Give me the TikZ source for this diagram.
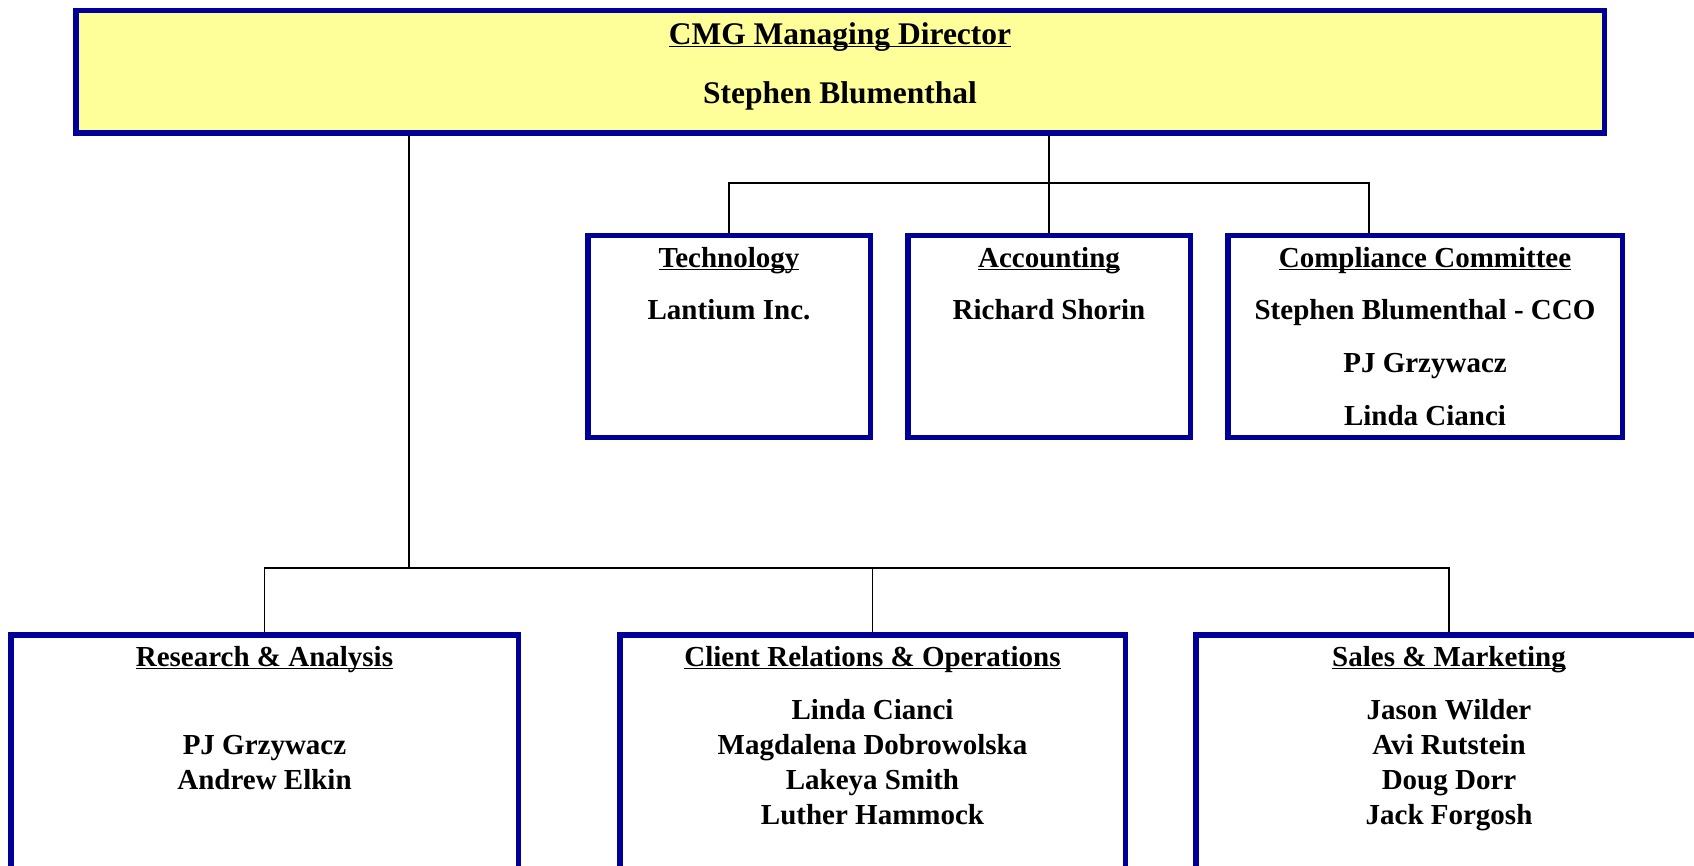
\documentclass[tikz,border=0pt]{standalone}
\usepackage{fontspec}
\setmainfont{Liberation Serif}

\definecolor{cmgblue}{RGB}{0,0,153}
\definecolor{cmgyellow}{RGB}{255,255,153}
\newcommand{\ulhead}[1]{\underline{\smash{#1}}}

\tikzset{
  unit/.style={draw=cmgblue, line width=5.5pt, fill=white, inner sep=0pt},
  conn/.style={draw=black, line width=1.5pt},
  lbl/.style={anchor=base, inner sep=0pt, font=\bfseries\fontsize{29}{35}\selectfont},
  toplbl/.style={lbl, font=\bfseries\fontsize{31.5}{38}\selectfont},
}

\begin{document}
\begin{tikzpicture}[x=1pt,y=-1pt]
  \useasboundingbox (0,0) rectangle (1694,866);
  \clip (0,0) rectangle (1694,866);

  % boxes
  \node[unit, fill=cmgyellow, minimum width=1528.5pt, minimum height=122.5pt] (md) at (840,72) {};
  \node[unit, minimum width=282.5pt, minimum height=201.5pt] (tech) at (729,336.5) {};
  \node[unit, minimum width=282.5pt, minimum height=201.5pt] (acct) at (1049,336.5) {};
  \node[unit, minimum width=394.5pt, minimum height=201.5pt] (comp) at (1425,336.5) {};
  \node[unit, minimum width=507.5pt, minimum height=235.25pt] (res) at (264.5,752.4) {};
  \node[unit, minimum width=505.5pt, minimum height=235.25pt] (cro) at (872.5,752.4) {};
  \node[unit, minimum width=506.5pt, minimum height=235.25pt] (sales) at (1449,752.4) {};

  % connectors
  \coordinate (upbus) at (1049,183);
  \coordinate (lowbus) at (409,568);
  \coordinate (compin) at (1369,233);
  \draw[conn] (md.south -| upbus) -- (upbus);
  \draw[conn] (tech.north) |- (upbus) -| (compin);
  \draw[conn] (upbus) -- (acct.north);
  \draw[conn] (md.south -| lowbus) -- (lowbus);
  \draw[conn] (res.north) |- (lowbus) -| (sales.north);
  \draw[conn] (lowbus -| cro.north) -- (cro.north);

  % texts
  \node[toplbl] (mdhd) at (840,45) {\ulhead{CMG Managing Director}};
  \node[toplbl] (mdnm) at (840,104) {Stephen Blumenthal};

  \node[lbl] (techhd) at (729,267.5) {\ulhead{Technology}};
  \node[lbl] (technm) at (729,320) {Lantium Inc.};
  \node[lbl] (accthd) at (1049,267.5) {\ulhead{Accounting}};
  \node[lbl] (acctnm) at (1049,320) {Richard Shorin};
  \node[lbl] (comphd) at (1425,267.5) {\ulhead{Compliance Committee}};
  \foreach \nm [count=\i] in {Stephen Blumenthal - CCO, PJ Grzywacz, Linda Cianci}
    \node[lbl] (comp-\i) at (1425,267.5+52.5*\i) {\nm};

  \node[lbl] (reshd) at (264.5,666.5) {\ulhead{Research \& Analysis}};
  \foreach \nm [count=\i] in {PJ Grzywacz, Andrew Elkin}
    \node[lbl] (res-\i) at (264.5,719.5+35*\i) {\nm};
  \node[lbl] (crohd) at (872.5,666.5) {\ulhead{Client Relations \& Operations}};
  \foreach \nm [count=\i] in {Linda Cianci, Magdalena Dobrowolska, Lakeya Smith, Luther Hammock}
    \node[lbl] (cro-\i) at (872.5,684.5+35*\i) {\nm};
  \node[lbl] (saleshd) at (1449,666.5) {\ulhead{Sales \& Marketing}};
  \foreach \nm [count=\i] in {Jason Wilder, Avi Rutstein, Doug Dorr, Jack Forgosh}
    \node[lbl] (sales-\i) at (1449,684.5+35*\i) {\nm};
\end{tikzpicture}
\end{document}
